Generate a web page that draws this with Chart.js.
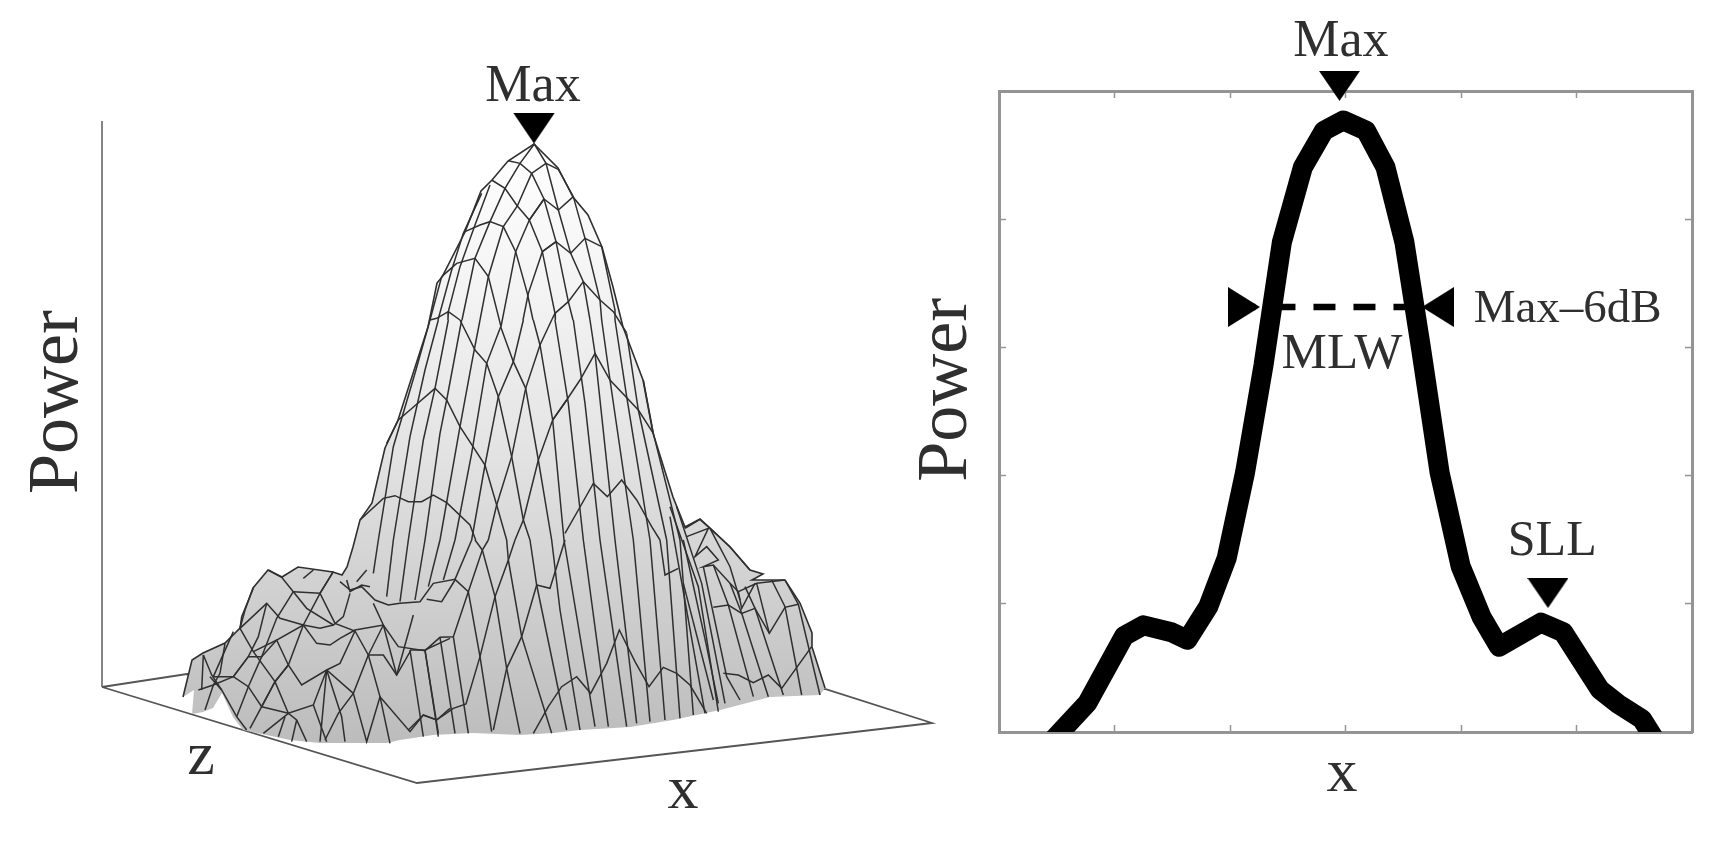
<!DOCTYPE html>
<html lang="en">
<head>
<meta charset="UTF-8">
<title>Beam pattern: surface and slice</title>
<script src="https://cdn.jsdelivr.net/npm/chart.js@4/dist/chart.umd.min.js"></script>
<style>
    html, body { margin: 0; padding: 0; background: #fff; overflow: hidden; }
    canvas { position: absolute; top: 0; filter: blur(0.5px); }
    #surfaceChart { left: 0; }
    #sliceChart { left: 900px; }
</style>
</head>
<body>
<canvas id="surfaceChart" width="960" height="842"></canvas>
<canvas id="sliceChart" width="825" height="842"></canvas>
<script>
// ---- right panel: power slice along x ----
const sliceX = [0.47, 0.765, 1.083, 1.252, 1.493, 1.63, 1.812, 1.971, 2.13, 2.29, 2.449, 2.631, 2.813, 2.98,
    3.178, 3.346, 3.51, 3.655, 3.815, 3.997, 4.179, 4.329, 4.693, 4.885, 5.203, 5.363, 5.567, 5.70];
const slicePower = [-0.06, 0.226, 0.748, 0.832, 0.778, 0.719, 0.978, 1.355, 2.023, 2.86, 3.82, 4.406, 4.69, 4.77,
    4.69, 4.406, 3.82, 2.985, 2.023, 1.292, 0.895, 0.665, 0.853, 0.778, 0.33, 0.217, 0.1, -0.09];
const xTicks = [1, 2, 3, 4, 5];
const yTicks = [1, 2, 3, 4];
const mlwX = [2.03, 3.66];
const mlwPower = [3.315, 3.315];
const maxMark = [2.948, 5.04];
const leftMark = [2.121, 3.315];
const rightMark = [3.80, 3.315];
const sllMark = [4.753, 1.084];

// ---- left panel: wireframe surface, projected onto the page plane ----
const floorX = [102, 187, 825, 932, 417, 102];
const floorY = [687, 674, 689, 723, 783, 687];
const powerAxisX = [102, 102];
const powerAxisY = [687, 121];

const ridgeLine = [[183,697],[192,660],[203,653],[225,643],[240,628],[245,610],[253,588],[268,570],[282,577],[298,567],
    [333,572],[342,575],[347,567],[353,547],[360,520],[372,503],[385,448],[398,420],[428,327],[437,283],[442,277],[465,232],
    [481,191],[492,180],[508,161],[534,144],[558,168],[573,197],[588,215],[602,247],[613,287],[623,327],[643,380],[653,433],
    [673,497],[685,527],[700,519],[710,528],[730,547],[750,570],[763,574],[752,580],[785,580],[800,603],[812,633],[812,647],[825,688]];
const baseLine = [[820,695],[770,697],[720,710],[673,720],[630,727],[580,730],[553,733],[520,735],[473,733],[433,735],
    [400,740],[387,743],[320,743],[290,740],[243,730],[233,717],[222,693],[213,708],[203,712],[192,714],[194,690],[183,697]];

const crownMesh = [
    [[265,92],[300,100],[335,130],[378,100],[415,118]],
    [[215,150],[255,175],[292,228],[328,270],[372,207],[415,240],[460,200]],
    [[135,305],[180,285],[210,275],[250,290],[287,365],[322,490],[339,570]],
    [[65,440],[110,400],[165,385],[205,440],[243,590]],
    [[328,270],[367,365],[405,550],[406,570]],
    [[408,335],[367,365],[325,490],[309,570]],
    [[367,365],[408,335],[452,370],[495,325],[545,350]],
    [[490,455],[445,515],[405,550],[395,570]],
    [[490,455],[540,510],[580,545],[620,609]],
    [[30,570],[50,565],[85,545],[120,570]],
    [[343,42],[300,100],[255,175],[210,275],[165,385],[126,570]],
    [[335,130],[292,228],[250,290],[205,440],[180,570]],
    [[372,207],[328,270],[287,365],[243,590]],
    [[343,42],[378,100],[415,240],[452,370],[490,455],[510,570]],
    [[415,118],[460,200],[495,325],[540,510],[545,570]],
    [[335,130],[372,207],[408,335],[445,515],[459,570]],
    [[210,165],[165,285],[120,410],[85,545],[84,570]],
    [[185,190],[130,310],[95,420],[54,570]],
    [[65,440],[30,570]],
    [[545,350],[585,540],[585,570]]
];
const shoulderMesh = [
    [[55,660],[100,380],[165,160],[210,0]],
    [[100,660],[150,350],[195,150],[235,0]],
    [[145,660],[190,360],[225,205],[265,0]],
    [[195,660],[240,340],[260,240],[305,0]],
    [[240,660],[300,320],[335,130],[360,0]],
    [[285,660],[335,400],[380,130],[422,20]],
    [[335,660],[375,435],[415,230],[460,125],[490,0]],
    [[385,660],[410,555],[455,410],[497,205],[540,75],[575,0]],
    [[465,660],[490,600],[535,420],[578,300],[620,240]],
    [[300,0],[345,90],[380,130],[415,230],[455,410],[490,600],[510,660]],
    [[422,20],[460,125],[497,205],[535,420],[575,660]],
    [[520,0],[540,75],[578,300],[612,660]],
    [[225,205],[260,240],[300,320],[375,435],[410,555],[440,660]],
    [[585,0],[625,250],[670,660]],
    [[640,0],[675,250],[720,660]],
    [[690,0],[705,100],[765,660]],
    [[725,0],[750,180],[820,660]],
    [[765,0],[800,230],[870,660]],
    [[800,40],[835,270],[920,660]],
    [[850,180],[880,340],[960,660]],
    [[80,370],[115,300],[150,270],[225,205]],
    [[578,300],[620,240],[660,180],[705,100],[750,180],[835,270],[880,340]],
    [[0,600],[70,535],[105,527],[145,545],[185,545],[220,525],[260,548],[330,615],[347,660]],
    [[615,640],[655,570],[700,490],[742,530],[785,480],[830,540],[875,620],[900,660]]
];
const footMesh = [
    [[0,325],[45,300],[130,285],[175,350],[255,362],[300,322],[340,320],[385,185],[345,148],[280,160],[240,215],[180,220],[145,225],[105,210],[65,170],[30,180],[0,155]],
    [[260,208],[305,215],[345,150]],
    [[205,600],[250,555],[290,570],[340,535],[378,522],[420,380],[465,200],[505,90],[525,30]],
    [[580,610],[625,530],[665,470],[710,440],[752,490],[800,400],[838,300],[885,395],[927,470],[970,412],[1010,430],[1050,465],[1100,550]],
    [[590,165],[630,175],[675,30]],
    [[960,30],[975,135],[1015,115]],
    [[427,60],[465,200],[500,415],[540,610]],
    [[505,90],[545,320],[635,610]],
    [[590,165],[545,320],[500,415],[460,600]],
    [[385,185],[420,380],[455,605]],
    [[445,30],[427,60],[385,185]],
    [[405,30],[427,60]],
    [[500,30],[505,90]],
    [[570,30],[590,165],[680,600]],
    [[635,30],[660,240],[720,600]],
    [[672,30],[765,590]],
    [[730,30],[805,590]],
    [[780,30],[860,590]],
    [[825,30],[890,580]],
    [[880,30],[930,575]],
    [[930,30],[975,570]],
    [[980,30],[1020,565]],
    [[1020,30],[1060,555]],
    [[1030,30],[1100,350],[1135,520]],
    [[115,30],[100,130]],
    [[160,30],[140,200]],
    [[205,30],[180,215]],
    [[255,30],[225,210]],
    [[300,30],[265,170]],
    [[345,30],[310,150]],
    [[395,30],[345,148]],
    [[300,322],[345,610]],
    [[255,362],[295,610]],
    [[340,320],[385,610]]
];
const leftLobeMesh = [
    [[295,30],[335,52],[370,95],[410,145],[490,195],[520,170],[540,100]],
    [[400,55],[430,30]],
    [[370,95],[450,100],[490,35]],
    [[250,85],[215,170],[210,205]],
    [[210,205],[290,130],[330,175],[400,195],[450,205],[490,195]],
    [[250,275],[320,240],[355,315],[395,375],[470,330],[550,400]],
    [[130,350],[190,350],[235,290],[275,290],[320,240],[400,195],[440,250],[480,255],[510,235]],
    [[85,390],[130,375],[190,350]],
    [[120,350],[155,390],[200,470],[230,510]],
    [[190,350],[235,380],[275,440],[315,365],[355,315]],
    [[275,440],[355,460],[430,435],[470,330]],
    [[355,460],[280,520]],
    [[100,285],[125,345],[155,390]],
    [[100,285],[95,390]],
    [[165,250],[150,340],[130,375],[105,450]],
    [[190,215],[130,350]],
    [[210,205],[250,275],[315,365],[355,460],[380,480],[410,545]],
    [[290,130],[265,230],[235,290],[190,350]],
    [[370,95],[320,175],[275,290],[235,380],[200,470]],
    [[450,100],[400,195],[355,315],[315,365],[275,440],[240,505]],
    [[490,35],[450,100],[495,190],[555,213],[595,285],[630,410],[660,550]],
    [[555,213],[510,310],[470,330]],
    [[470,330],[515,470],[525,545]],
    [[470,330],[450,545]],
    [[430,435],[470,545]],
    [[380,480],[365,545]],
    [[345,470],[325,530]],
    [[465,540],[505,460],[550,400],[595,285],[640,285],[680,345],[722,272]],
    [[550,400],[590,545],[630,410],[720,515],[760,465],[800,480],[840,445]],
    [[640,195],[595,285]],
    [[680,345],[640,195],[610,130]],
    [[680,345],[730,165]],
    [[720,270],[765,270],[840,235]],
    [[720,270],[760,530]],
    [[765,270],[805,530]],
    [[530,60],[540,95],[575,75],[600,80]],
    [[560,65],[590,30]]
];
const rightLobeMesh = [
    [[45,85],[90,58],[120,85],[180,140],[240,210]],
    [[50,110],[115,85],[75,170],[110,140],[145,180],[100,200],[130,195],[180,250],[205,275],[260,250],[345,240]],
    [[130,322],[175,315],[215,340],[255,325],[298,400],[345,322],[385,313]],
    [[205,275],[215,325],[255,250]],
    [[160,520],[205,525],[250,548],[295,525],[335,565],[425,440]],
    [[0,20],[85,260],[145,635]],
    [[20,20],[95,250],[165,610]],
    [[40,250],[130,600]],
    [[0,50],[105,640]],
    [[100,200],[170,530],[210,600]],
    [[130,195],[175,315],[250,590]],
    [[180,250],[215,340],[295,590]],
    [[225,260],[255,325],[340,585]],
    [[305,240],[345,320],[395,585]],
    [[260,250],[298,400]],
    [[345,240],[385,313],[450,585]],
    [[120,85],[180,200],[210,300]]
];
const meshGroups = [
    { lines: crownMesh, ox: 420, oy: 130 },
    { lines: shoulderMesh, ox: 360, oy: 320 },
    { lines: footMesh, ox: 340, oy: 530 },
    { lines: leftLobeMesh, ox: 170, oy: 560 },
    { lines: rightLobeMesh, ox: 670, oy: 500 }
];

const INK = '#2f2f2f';
const SERIF = '"Liberation Serif", serif';

const surfaceLabels = [
    { text: 'Max', x: 533, y: 101, size: 52 },
    { text: 'z', x: 201, y: 774, size: 62 },
    { text: 'x', x: 683, y: 808, size: 62 },
    { text: 'Power', x: 77, y: 402, size: 72, rotate: true }
];
// in slice-chart units
const sliceLabels = [
    { text: 'Max', x: 2.96, y: 5.27, size: 52 },
    { text: 'MLW', x: 2.97, y: 2.84, size: 51 },
    { text: 'Max\u20136dB', x: 4.11, y: 3.2, size: 47, align: 'left' },
    { text: 'SLL', x: 4.79, y: 1.38, size: 50 },
    { text: 'x', x: 2.97, y: -0.46, size: 62 },
    { text: 'Power', x: -0.29, y: 2.67, size: 72, rotate: true }
];

// draws the annotation text at scale positions
const textLabelPlugin = {
    id: 'textLabels',
    afterDatasetsDraw(chart, args, opts) {
        const ctx = chart.ctx;
        ctx.save();
        ctx.fillStyle = INK;
        ctx.textBaseline = 'alphabetic';
        opts.items.forEach(item => {
            const px = chart.scales.x.getPixelForValue(item.x);
            const py = chart.scales.y.getPixelForValue(item.y);
            ctx.save();
            ctx.font = item.size + 'px ' + SERIF;
            ctx.textAlign = item.align || 'center';
            ctx.translate(px, py);
            if (item.rotate) ctx.rotate(-Math.PI / 2);
            ctx.fillText(item.text, 0, 0);
            ctx.restore();
        });
        ctx.restore();
    }
};

// solid triangle sprite for the marker points
function triangleSprite(w, h, dir) {
    const c = document.createElement('canvas');
    const horizontal = dir === 'left' || dir === 'right';
    c.width = horizontal ? h : w;
    c.height = horizontal ? w : h;
    const g = c.getContext('2d');
    g.fillStyle = '#000';
    g.beginPath();
    if (dir === 'down') { g.moveTo(0, 0); g.lineTo(w, 0); g.lineTo(w / 2, h); }
    if (dir === 'right') { g.moveTo(0, 0); g.lineTo(0, w); g.lineTo(h, w / 2); }
    if (dir === 'left') { g.moveTo(h, 0); g.lineTo(h, w); g.lineTo(0, w / 2); }
    g.closePath();
    g.fill();
    return c;
}

function markerDataset(point, sprite) {
    return {
        type: 'scatter',
        data: [{ x: point[0], y: point[1] }],
        pointStyle: sprite,
        pointRadius: 12,
        clip: false,
        order: 0
    };
}

function toPoints(xs, ys) {
    return xs.map((x, i) => ({ x: x, y: ys[i] }));
}

function pairsToPoints(pairs) {
    return pairs.map(p => ({ x: p[0], y: p[1] }));
}

// ---- surface chart ----
const shade = document.createElement('canvas').getContext('2d').createLinearGradient(0, 144, 0, 745);
shade.addColorStop(0, '#ffffff');
shade.addColorStop(0.25, '#f3f3f3');
shade.addColorStop(0.5, '#e4e4e4');
shade.addColorStop(0.72, '#d2d2d2');
shade.addColorStop(1, '#bcbcbc');

const surfaceDatasets = [];
surfaceDatasets.push({
    data: toPoints(floorX, floorY), borderColor: '#555', borderWidth: 1.8, pointRadius: 0, order: 9
});
surfaceDatasets.push({
    data: toPoints(powerAxisX, powerAxisY), borderColor: '#666', borderWidth: 1.6, pointRadius: 0, order: 9
});
surfaceDatasets.push({
    data: pairsToPoints(ridgeLine.concat(baseLine)),
    fill: 'shape', backgroundColor: shade, borderWidth: 0, pointRadius: 0, order: 8
});
meshGroups.forEach(group => {
    group.lines.forEach(line => {
        surfaceDatasets.push({
            data: line.map(p => ({ x: group.ox + p[0] / 3, y: group.oy + p[1] / 3 })),
            borderColor: INK, borderWidth: 1.5, pointRadius: 0, order: 5
        });
    });
});
surfaceDatasets.push({
    data: pairsToPoints(ridgeLine), borderColor: INK, borderWidth: 1.6, pointRadius: 0, order: 4
});
surfaceDatasets.push(markerDataset([534, 128], triangleSprite(42, 31, 'down')));

new Chart(document.getElementById('surfaceChart'), {
    type: 'line',
    data: { datasets: surfaceDatasets },
    plugins: [textLabelPlugin],
    options: {
        responsive: false,
        animation: false,
        events: [],
        parsing: false,
        elements: { line: { tension: 0 } },
        layout: { padding: 0, autoPadding: false },
        plugins: { legend: { display: false }, tooltip: { enabled: false }, textLabels: { items: surfaceLabels } },
        scales: {
            x: { type: 'linear', min: 0, max: 960, display: false },
            y: { type: 'linear', min: 0, max: 842, reverse: true, display: false }
        }
    }
});

// ---- slice chart ----
function frameAxis(position, min, max, ticks) {
    return {
        type: 'linear',
        position: position,
        min: min,
        max: max,
        afterBuildTicks(scale) { scale.ticks = ticks.map(v => ({ value: v })); },
        afterFit(scale) {
            if (scale.isHorizontal()) scale.height = 0; else scale.width = 0;
        },
        ticks: { display: false },
        grid: { drawOnChartArea: false, drawTicks: true, tickLength: -7, tickWidth: 1.5, tickColor: '#949494' },
        border: { display: true, color: '#949494', width: 3 }
    };
}

new Chart(document.getElementById('sliceChart'), {
    type: 'line',
    data: {
        datasets: [
            {
                data: toPoints(mlwX, mlwPower), borderColor: '#000', borderWidth: 6.5,
                borderDash: [22, 18], pointRadius: 0, order: 3
            },
            {
                data: toPoints(sliceX, slicePower), borderColor: '#000', borderWidth: 20,
                borderJoinStyle: 'round', pointRadius: 0, clip: 0, order: 2
            },
            markerDataset(maxMark, triangleSprite(41, 30, 'down')),
            markerDataset(sllMark, triangleSprite(41, 30, 'down')),
            markerDataset(leftMark, triangleSprite(40, 32, 'right')),
            markerDataset(rightMark, triangleSprite(40, 32, 'left'))
        ]
    },
    plugins: [textLabelPlugin],
    options: {
        responsive: false,
        animation: false,
        events: [],
        parsing: false,
        elements: { line: { tension: 0 } },
        layout: { padding: { left: 99, right: 33, top: 91, bottom: 110 } },
        plugins: { legend: { display: false }, tooltip: { enabled: false }, textLabels: { items: sliceLabels } },
        scales: {
            x: frameAxis('bottom', 0, 6, xTicks),
            xTop: frameAxis('top', 0, 6, xTicks),
            y: frameAxis('left', 0, 5, yTicks),
            yRight: frameAxis('right', 0, 5, yTicks)
        }
    }
});
</script>
</body>
</html>
